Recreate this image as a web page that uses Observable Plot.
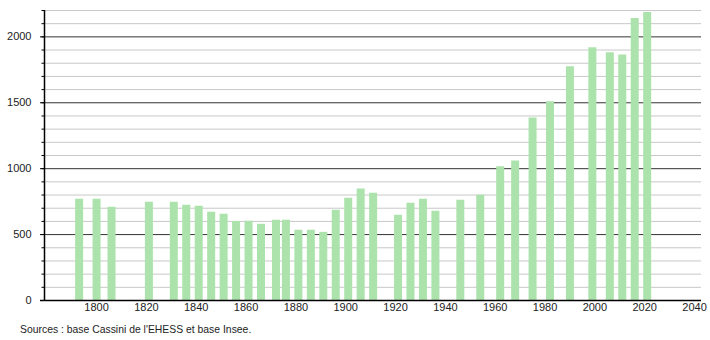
<!DOCTYPE html>
<html>
<head>
<meta charset="utf-8">
<script src="https://cdn.jsdelivr.net/npm/d3@7"></script>
<script src="https://cdn.jsdelivr.net/npm/@observablehq/plot@0.6"></script>
<style>
  html, body { margin: 0; padding: 0; background: #fff; }
  #chart { width: 710px; }
  .caption { font-family: "Liberation Sans", Arial, sans-serif; font-size: 10.4px; color: #222; padding-left: 20px; line-height: 14px; margin-top: 3px; }
</style>
</head>
<body>
<div id="chart"></div>
<div class="caption">Sources : base Cassini de l'EHESS et base Insee.</div>
<script>
const years = [1793, 1800, 1806, 1821, 1831, 1836, 1841, 1846, 1851, 1856, 1861, 1866, 1872, 1876, 1881, 1886, 1891, 1896, 1901, 1906, 1911, 1921, 1926, 1931, 1936, 1946, 1954, 1962, 1968, 1975, 1982, 1990, 1999, 2006, 2011, 2016, 2021];
const population = [769, 769, 708, 746, 746, 723, 715, 670, 654, 599, 601, 578, 609, 609, 533, 533, 517, 685, 776, 845, 814, 647, 738, 769, 677, 761, 799, 1014, 1058, 1385, 1507, 1773, 1918, 1880, 1862, 2139, 2184];
const xTicks = [1800, 1820, 1840, 1860, 1880, 1900, 1920, 1940, 1960, 1980, 2000, 2020, 2040];
const yTicks = [0, 500, 1000, 1500, 2000];

const data = years.map((y, i) => ({year: y, pop: population[i]}));
const xDomain = [1779.1, 2042.8];
const minor = d3.range(100, 2201, 100).filter(v => v % 500 !== 0);
const major = [500, 1000, 1500, 2000];

const chart = Plot.plot({
  width: 710,
  height: 320,
  marginLeft: 44,
  marginRight: 9,
  marginTop: 10,
  marginBottom: 20,
  style: {fontFamily: "'Liberation Sans', Arial, sans-serif", fontSize: "11px", color: "#222", background: "#fff"},
  x: {domain: xDomain, axis: null},
  y: {domain: [0, 2200], axis: null},
  marks: [
    Plot.ruleY(minor, {stroke: "#c8c8c8", strokeWidth: 1}),
    Plot.ruleY(major, {stroke: "#333", strokeWidth: 1}),
    Plot.ruleX(data, {x: "year", y1: 0, y2: "pop", stroke: "#ace3ac", strokeWidth: 8}),
    Plot.axisX({ticks: xTicks, tickSize: 0, tickPadding: 3, tickFormat: d => String(d), fontSize: 11, label: null}),
    Plot.axisY({ticks: d3.range(0, 2201, 100), tickSize: 2.5, tickFormat: () => "", stroke: "#000", label: null}),
    Plot.axisY({ticks: yTicks, tickSize: 4, tickPadding: 9, tickFormat: d => String(d), stroke: "#000", label: null}),
    Plot.ruleX([xDomain[0]], {stroke: "#000", strokeWidth: 1.5}),
    Plot.ruleY([0], {x1: 1777.5, x2: xDomain[1], stroke: "#000", strokeWidth: 1.5})
  ]
});
document.getElementById("chart").appendChild(chart);
</script>
</body>
</html>
